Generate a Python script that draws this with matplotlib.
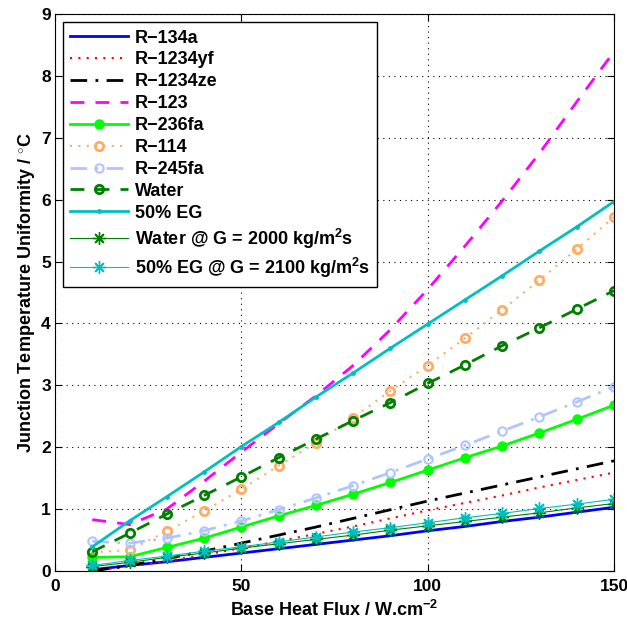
import numpy as np
import matplotlib
matplotlib.use('Agg')
import matplotlib.pyplot as plt
from matplotlib.ticker import MultipleLocator

plt.rcParams['font.family'] = ['Liberation Sans', 'DejaVu Sans']
plt.rcParams['font.weight'] = 'bold'
plt.rcParams['mathtext.fontset'] = 'custom'
plt.rcParams['mathtext.rm'] = 'Liberation Sans:bold'
plt.rcParams['mathtext.bf'] = 'Liberation Sans:bold'
plt.rcParams['mathtext.default'] = 'bf'

# base heat flux (W/cm2)
heat_flux = [10, 20, 30, 40, 50, 60, 70, 80, 90, 100, 110, 120, 130, 140, 150]

# junction temperature uniformity (C)
r134a = [0.02, 0.09, 0.15, 0.22, 0.29, 0.36, 0.43, 0.50, 0.57, 0.65, 0.72, 0.80, 0.87, 0.95, 1.03]
r1234yf = [0.0, 0.07, 0.16, 0.26, 0.37, 0.48, 0.60, 0.72, 0.85, 0.98, 1.10, 1.22, 1.35, 1.47, 1.59]
r1234ze = [0.0, 0.09, 0.20, 0.32, 0.45, 0.58, 0.71, 0.85, 0.99, 1.13, 1.26, 1.39, 1.52, 1.65, 1.78]
r123 = [0.83, 0.75, 1.0, 1.45, 1.92, 2.38, 2.83, 3.32, 3.90, 4.55, 5.25, 5.98, 6.75, 7.58, 8.39]
r236fa = [0.22, 0.23, 0.38, 0.53, 0.71, 0.89, 1.06, 1.24, 1.43, 1.63, 1.83, 2.02, 2.23, 2.45, 2.68]
r114 = [0.30, 0.34, 0.64, 0.97, 1.32, 1.70, 2.07, 2.48, 2.91, 3.32, 3.76, 4.22, 4.70, 5.20, 5.72]
r245fa = [0.48, 0.45, 0.53, 0.65, 0.81, 0.99, 1.18, 1.38, 1.59, 1.81, 2.03, 2.26, 2.49, 2.73, 2.98]
water = [0.31, 0.61, 0.92, 1.22, 1.52, 1.83, 2.13, 2.43, 2.72, 3.03, 3.33, 3.64, 3.93, 4.23, 4.53]
eg50 = [0.39, 0.81, 1.20, 1.60, 2.01, 2.40, 2.81, 3.20, 3.60, 3.99, 4.38, 4.77, 5.17, 5.56, 5.97]
water_g = [0.07, 0.14, 0.22, 0.29, 0.37, 0.44, 0.51, 0.58, 0.66, 0.73, 0.80, 0.87, 0.94, 1.02, 1.09]
eg50_g = [0.09, 0.17, 0.24, 0.32, 0.39, 0.47, 0.55, 0.63, 0.70, 0.78, 0.86, 0.93, 1.01, 1.08, 1.16]

fig = plt.figure(figsize=(6.27, 6.25), dpi=100)
ax = fig.add_axes([0.0877, 0.0864, 0.8915, 0.8912])

asterisk = (8, 2, 0)

ax.plot(heat_flux, r134a, color='#0000ff', lw=2, label='R\u2212134a')
ax.plot(heat_flux, r1234yf, color='#ff0000', lw=1.5, ls=(0, (1, 3)), label='R\u22121234yf')
ax.plot(heat_flux, r1234ze, color='black', lw=2, ls=(0, (6, 3, 1, 3)), label='R\u22121234ze')
ax.plot(heat_flux, r123, color='#ff00ff', lw=2, ls=(0, (5, 4)), label='R\u2212123')
ax.plot(heat_flux, r236fa, color='#00ff00', lw=2, marker='o', ms=6.5, label='R\u2212236fa')
ax.plot(heat_flux, r114, color='#ffad66', lw=1.5, ls=(0, (1, 3)), marker='o', ms=6,
        mfc='none', mew=2, label='R\u2212114')
ax.plot(heat_flux, r245fa, color='#b0c4ff', lw=2, ls=(0, (6, 3, 1, 3)), marker='o', ms=6,
        mfc='none', mew=1.5, label='R\u2212245fa')
ax.plot(heat_flux, water, color='#007f00', lw=2, ls=(0, (5, 4)), marker='o', ms=6,
        mfc='none', mew=2, label='Water')
ax.plot(heat_flux, eg50, color='#00bfbf', lw=2, marker='.', ms=5, label='50% EG')
ax.plot(heat_flux, water_g, color='#007f00', lw=0.8, marker=asterisk, ms=9, mew=1,
        label=r'Water @ G = 2000 kg/m$^{2}$s')
ax.plot(heat_flux, eg50_g, color='#00bfbf', lw=0.8, marker=asterisk, ms=9, mew=1,
        label=r'50% EG @ G = 2100 kg/m$^{2}$s')

ax.set_xlim(0, 150)
ax.set_ylim(0, 9)
ax.xaxis.set_major_locator(MultipleLocator(50))
ax.yaxis.set_major_locator(MultipleLocator(1))
ax.tick_params(which='both', direction='in', top=True, right=True, labelsize=12.5)
ax.tick_params(which='major', length=5)
ax.tick_params(axis='x', pad=6)
ax.tick_params(axis='y', pad=3)
for lbl in ax.get_xticklabels() + ax.get_yticklabels():
    lbl.set_fontweight('bold')
ax.grid(True, which='major', ls=(0, (1, 4)), color='black', lw=0.8)

ax.set_xlabel(r'Base Heat Flux / W.cm$^{-2}$', fontsize=13, fontweight='bold', labelpad=4)
ax.set_ylabel(r'Junction Temperature Uniformity / $^{\circ}$C', fontsize=13, fontweight='bold',
              labelpad=3)

leg = ax.legend(loc='upper left', bbox_to_anchor=(0.014, 0.985), borderaxespad=0,
                fontsize=13, handlelength=3.2, handletextpad=0.4, labelspacing=0.27,
                fancybox=False, framealpha=1, edgecolor='black', borderpad=0.4)
leg.get_frame().set_linewidth(1)

plt.savefig('out.png', dpi=100)
